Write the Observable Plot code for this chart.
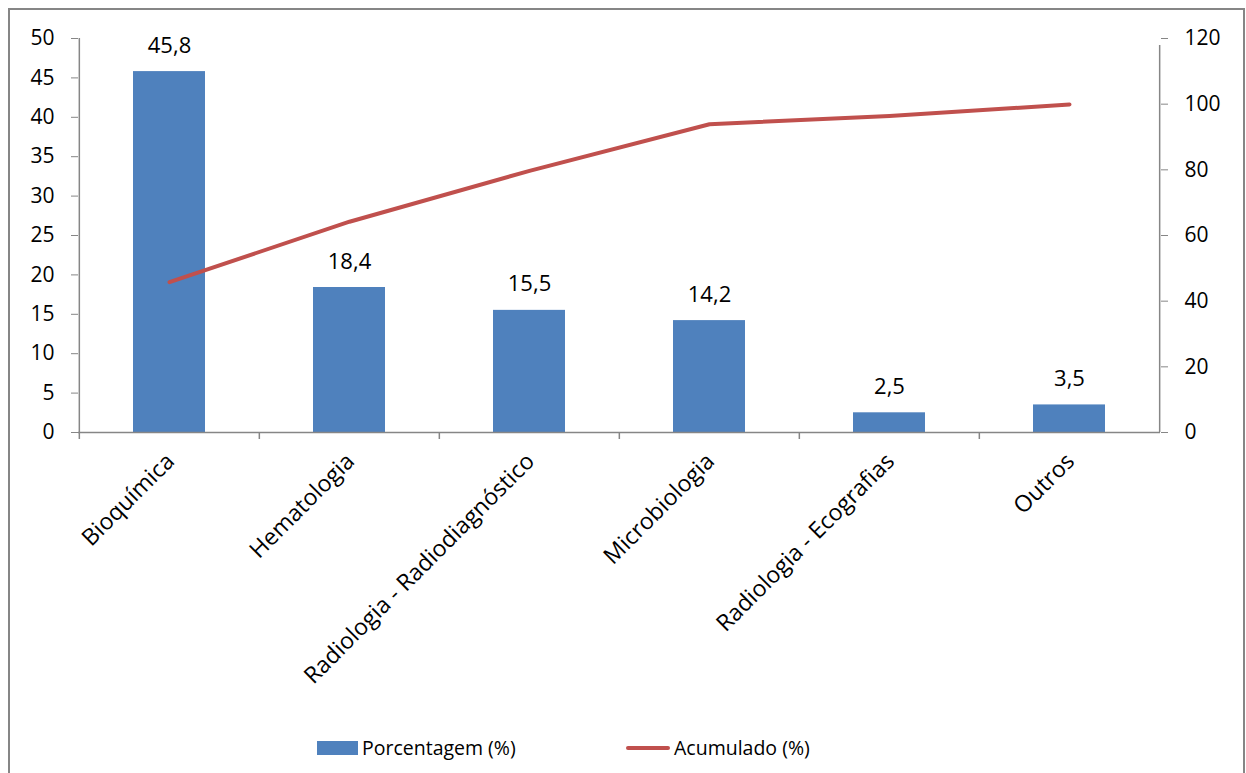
<!DOCTYPE html>
<html>
<head>
<meta charset="utf-8">
<script src="https://cdn.jsdelivr.net/npm/d3@7"></script>
<script src="https://cdn.jsdelivr.net/npm/@observablehq/plot@0.6"></script>
<style>
  html, body { margin: 0; padding: 0; background: #fff; overflow: hidden; }
  body { width: 1246px; height: 773px; position: relative; font-family: "Open Sans", Lato, sans-serif; }
  #border { position: absolute; left: 8px; top: 8px; width: 1233px; height: 800px; border: 2px solid #868686; box-sizing: content-box; pointer-events: none; }
  #chart { position: absolute; left: 0; top: 0; }
  .legend { position: absolute; top: 736px; font-size: 19.5px; color: #000; line-height: 24px; display: flex; align-items: center; }
  .swatch-bar { width: 41px; height: 14px; background: #4f81bd; margin-right: 4px; }
  .swatch-line { width: 44px; height: 4px; border-radius: 2px; background: #c0504d; margin-right: 4px; }
</style>
</head>
<body>
<div id="chart"></div>
<div class="legend" style="left:317px"><div class="swatch-bar"></div><span>Porcentagem (%)</span></div>
<div class="legend" style="left:626px"><div class="swatch-line"></div><span>Acumulado (%)</span></div>
<div id="border"></div>
<script>
// Exam areas, share of total (%) and running total (%)
const categories = ["Bioquímica", "Hematologia", "Radiologia - Radiodiagnóstico", "Microbiologia", "Radiologia - Ecografias", "Outros"];
const percent = [45.8, 18.4, 15.5, 14.2, 2.5, 3.5];
const cumulative = [45.8, 64.2, 79.7, 93.9, 96.4, 99.9];
const leftTicks = [0, 5, 10, 15, 20, 25, 30, 35, 40, 45, 50];
const rightTicks = [0, 20, 40, 60, 80, 100, 120];

const leftMax = 50, rightMax = 120;
const toLeft = v => v * leftMax / rightMax;

const rows = categories.map((c, i) => ({cat: c, pct: percent[i], cum: toLeft(cumulative[i])}));

const W = 1246, H = 720;
const mL = 78, mR = 86, mT = 38, mB = H - 432;
const step = (W - mL - mR) / categories.length;
const axisColor = "#868686";
const font = "'Open Sans', Lato, sans-serif";
const fmt = v => v.toFixed(1).replace(".", ",");

const chart = Plot.plot({
  width: W,
  height: H,
  marginLeft: mL,
  marginRight: mR,
  marginTop: mT,
  marginBottom: mB,
  style: {fontFamily: font, fontSize: "21px", color: "#000", background: "transparent"},
  x: {domain: categories, paddingInner: 0.6, paddingOuter: 0.3, label: null},
  y: {domain: [0, leftMax], label: null},
  marks: [
    Plot.barY(rows, {x: "cat", y: "pct", fill: "#4f81bd"}),
    Plot.line(rows, {x: "cat", y: "cum", stroke: "#c0504d", strokeWidth: 4, strokeLinecap: "round", strokeLinejoin: "round"}),
    Plot.text(rows, {x: "cat", y: "pct", text: d => fmt(d.pct), lineAnchor: "bottom", dy: -19, fill: "#000", fontSize: 22}),
    // axis lines
    Plot.ruleY([0], {stroke: axisColor, strokeWidth: 1.5}),
    Plot.ruleX([categories[0]], {y1: 0, y2: leftMax, dx: -step / 2, stroke: axisColor, strokeWidth: 1.5}),
    Plot.ruleX([categories[categories.length - 1]], {y1: 0, y2: leftMax, dx: step / 2, insetBottom: -7, stroke: axisColor, strokeWidth: 1.5}),
    // category boundary ticks
    Plot.ruleX(categories, {y1: 0, y2: 0, insetBottom: -7, dx: -step / 2, stroke: axisColor, strokeWidth: 1.5}),
    Plot.axisY({anchor: "left", ticks: leftTicks, tickSize: 7, tickPadding: 17, stroke: axisColor, fill: "#000", fontSize: 21, label: null}),
    Plot.axisY({anchor: "right", ticks: rightTicks.map(toLeft), tickFormat: v => String(Math.round(v * rightMax / leftMax)), tickSize: 7, tickPadding: 17, stroke: axisColor, fill: "#000", fontSize: 21, label: null}),
    Plot.axisX({tickSize: 0, tickRotate: -45, tickPadding: 25, dx: 1, fill: "#000", fontSize: 23, label: null})
  ]
});
document.getElementById("chart").appendChild(chart);
</script>
</body>
</html>
